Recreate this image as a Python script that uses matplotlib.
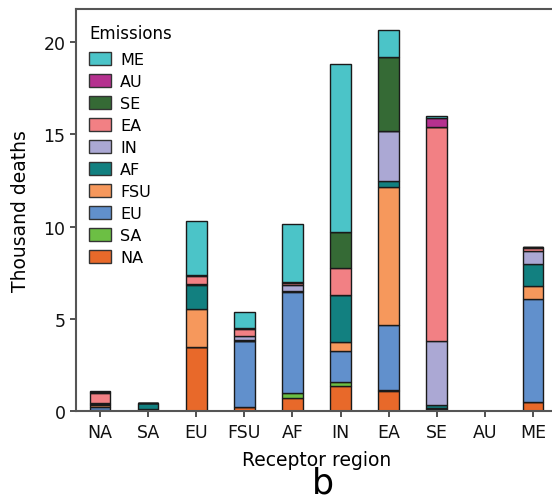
import matplotlib
matplotlib.use("Agg")
import matplotlib.pyplot as plt
import numpy as np

receptors = ["NA", "SA", "EU", "FSU", "AF", "IN", "EA", "SE", "AU", "ME"]
emission_sources = ["NA", "SA", "EU", "FSU", "AF", "IN", "EA", "SE", "AU", "ME"]

# contributions (thousand deaths) from each emission source, per receptor region
src_NA  = [0.03, 0.12, 3.45, 0.23, 0.70, 1.37, 1.08, 0.03, 0.0, 0.50]
src_SA  = [0.00, 0.00, 0.00, 0.00, 0.27, 0.18, 0.05, 0.05, 0.0, 0.00]
src_EU  = [0.18, 0.00, 0.00, 3.55, 5.50, 1.71, 3.54, 0.05, 0.0, 5.60]
src_FSU = [0.12, 0.00, 2.10, 0.00, 0.05, 0.49, 7.48, 0.02, 0.0, 0.68]
src_AF  = [0.04, 0.33, 1.30, 0.05, 0.00, 2.55, 0.33, 0.18, 0.0, 1.18]
src_IN  = [0.05, 0.00, 0.05, 0.25, 0.30, 0.00, 2.71, 3.48, 0.0, 0.72]
src_EA  = [0.58, 0.00, 0.40, 0.38, 0.12, 1.45, 0.00, 11.58, 0.0, 0.18]
src_SE  = [0.02, 0.00, 0.05, 0.05, 0.05, 1.97, 3.98, 0.00, 0.0, 0.02]
src_AU  = [0.00, 0.00, 0.00, 0.00, 0.00, 0.00, 0.00, 0.50, 0.0, 0.00]
src_ME  = [0.05, 0.00, 2.95, 0.88, 3.17, 9.08, 1.48, 0.12, 0.0, 0.00]

series = [src_NA, src_SA, src_EU, src_FSU, src_AF, src_IN, src_EA, src_SE, src_AU, src_ME]
colors = ["#E8692A", "#6CBF44", "#6190CC", "#F6985C", "#128080",
          "#ABA8D4", "#F28084", "#356A35", "#B5318F", "#4BC4C8"]

plt.rcParams["font.family"] = ["DejaVu Sans"]

fig = plt.figure(figsize=(5.52, 5.02), dpi=100)
ax = fig.add_axes([76/552, 1-412/502, (557-76)/552, (412-10)/502])

x = np.arange(len(receptors))
bottom = np.zeros(len(receptors))
handles = []
for name, vals, c in zip(emission_sources, series, colors):
    v = np.array(vals)
    b = ax.bar(x, v, width=0.43, bottom=bottom, color=c, edgecolor="#1a1a1a",
               linewidth=1.0, label=name)
    handles.append(b)
    bottom += v

ax.set_xlim(-0.5, 9.5)
ax.set_ylim(0, 21.8)
ax.set_xticks(x)
ax.set_xticklabels(receptors)
ax.set_yticks([0, 5, 10, 15, 20])
ax.tick_params(axis="both", labelsize=12.5, colors="#333333", length=4, width=1.2)
ax.tick_params(axis="x", pad=5)
for t in ax.get_xticklabels() + ax.get_yticklabels():
    t.set_color("#111111")
for s in ax.spines.values():
    s.set_color("#555555")
    s.set_linewidth(1.5)

ax.set_xlabel("Receptor region", fontsize=13.5, labelpad=6)
ax.set_ylabel("Thousand deaths", fontsize=13.5, labelpad=10)

leg = ax.legend(handles[::-1], emission_sources[::-1], title="Emissions",
                loc="upper left", bbox_to_anchor=(78/552, 1-14/502),
                bbox_transform=fig.transFigure, frameon=False,
                fontsize=11.5, title_fontsize=12, alignment="left",
                handlelength=1.35, handleheight=0.85, labelspacing=0.44,
                handletextpad=0.6, borderpad=0.2)
leg._legend_box.sep = 7
for p in leg.get_patches():
    p.set_edgecolor("#333333")

fig.text(323/552, 1-494/502, "b", fontsize=25, ha="center", va="baseline")

fig.savefig("out.png", dpi=100)
